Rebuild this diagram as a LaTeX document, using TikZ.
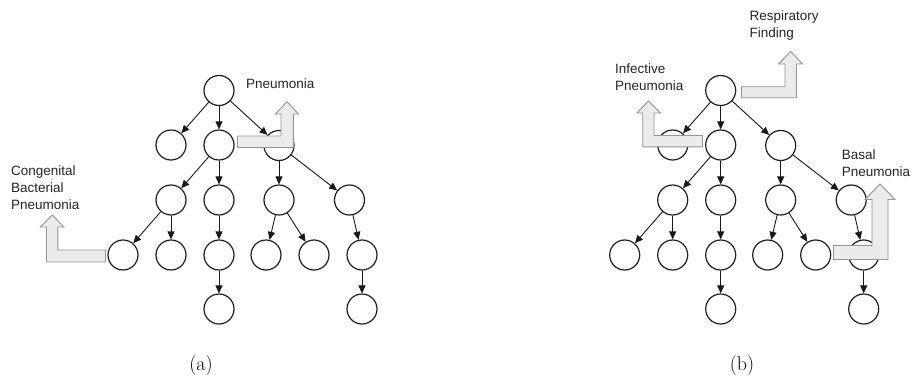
\documentclass[tikz,border=0pt]{standalone}
\usepackage{fontspec}
\newfontfamily\lab{Liberation Sans}
\usetikzlibrary{arrows.meta}
\newcommand\drawtree[2]{%
\begin{scope}[xshift=#2]
\node[nd] (#1r) at (219,90.5) {};
\node[nd] (#1a1) at (171,145) {};
\node[nd] (#1a2) at (219,145) {};
\node[nd] (#1a3) at (279,145.5) {};
\node[nd] (#1b1) at (171,200) {};
\node[nd] (#1b2) at (219,200) {};
\node[nd] (#1b3) at (279,200) {};
\node[nd] (#1b4) at (349.5,200) {};
\node[nd] (#1c1) at (123,255) {};
\node[nd] (#1c2) at (171,255) {};
\node[nd] (#1c3) at (219,255) {};
\node[nd] (#1c4) at (266,255) {};
\node[nd] (#1c5) at (314,255) {};
\node[nd] (#1c6) at (362,255) {};
\node[nd] (#1d1) at (219,309) {};
\node[nd] (#1d2) at (362,309) {};
\draw[ed] (#1r) -- (#1a1);
\draw[ed] (#1r) -- (#1a2);
\draw[ed] (#1r) -- (#1a3);
\draw[ed] (#1a2) -- (#1b1);
\draw[ed] (#1a2) -- (#1b2);
\draw[ed] (#1a3) -- (#1b3);
\draw[ed] (#1a3) -- (#1b4);
\draw[ed] (#1b1) -- (#1c1);
\draw[ed] (#1b1) -- (#1c2);
\draw[ed] (#1b2) -- (#1c3);
\draw[ed] (#1c3) -- (#1d1);
\draw[ed] (#1b3) -- (#1c4);
\draw[ed] (#1b3) -- (#1c5);
\draw[ed] (#1b4) -- (#1c6);
\draw[ed] (#1c6) -- (#1d2);
\end{scope}}
\begin{document}
\begin{tikzpicture}[x=1pt,y=-1pt,
  nd/.style={circle,draw=black!88,line width=1.2pt,minimum size=30pt,inner sep=0pt},
  ed/.style={-{Triangle[length=8pt,width=7pt]},line width=0.9pt,draw=black!90},
  bent/.style={fill=black!8,draw=black!42,line width=0.9pt,line join=miter},
  lbl/.style={font=\lab\fontsize{13.5}{16.8}\selectfont,align=left,inner sep=0pt,anchor=base west,text=black!85},
  capt/.style={font=\fontsize{20}{24}\selectfont,inner sep=0pt}]
\useasboundingbox (0,0) rectangle (914,378);
\fill[white] (0,0) rectangle (914,378);
\drawtree{A}{0pt}
\drawtree{B}{501.7pt}
% bent arrows panel (a)
\draw[bent] (237.5,136) -- (281,136) -- (281,114) -- (275.3,114) -- (287,101.7) -- (298.5,114) -- (293.3,114) -- (293.3,147.5) -- (237.5,147.5) -- cycle;
\draw[bent] (105.5,250) -- (57.8,250) -- (57.8,227) -- (64,227) -- (52.2,215) -- (40.5,227) -- (46.5,227) -- (46.5,262) -- (105.5,262) -- cycle;
% bent arrows panel (b)
\draw[bent] (741.5,86.7) -- (785,86.7) -- (785,64) -- (778.5,64) -- (790.7,51.5) -- (802.5,64) -- (796.5,64) -- (796.5,97.7) -- (741.5,97.7) -- cycle;
\draw[bent] (702.5,135.5) -- (654,135.5) -- (654,113) -- (660.5,113) -- (648.5,101) -- (637,113) -- (642.7,113) -- (642.7,146.8) -- (702.5,146.8) -- cycle;
\draw[bent] (833.5,245.5) -- (872,245.5) -- (872,199.5) -- (865,199.5) -- (880,184) -- (895,199.5) -- (888,199.5) -- (888,259.5) -- (833.5,259.5) -- cycle;
% labels (base anchor = baseline of last line)
\node[lbl] (lp) at (246,88) {Pneumonia};
\node[lbl] (lc) at (11,209) {Congenital\\Bacterial\\Pneumonia};
\node[lbl] (li) at (615,90) {Infective\\Pneumonia};
\node[lbl] (lr) at (749.3,37.3) {Respiratory\\Finding};
\node[lbl] (lb) at (841.7,176.7) {Basal\\Pneumonia};
% captions
\node[capt] (ca) at (201,366) {(a)};
\node[capt] (cb) at (742,366) {(b)};
\end{tikzpicture}
\end{document}
